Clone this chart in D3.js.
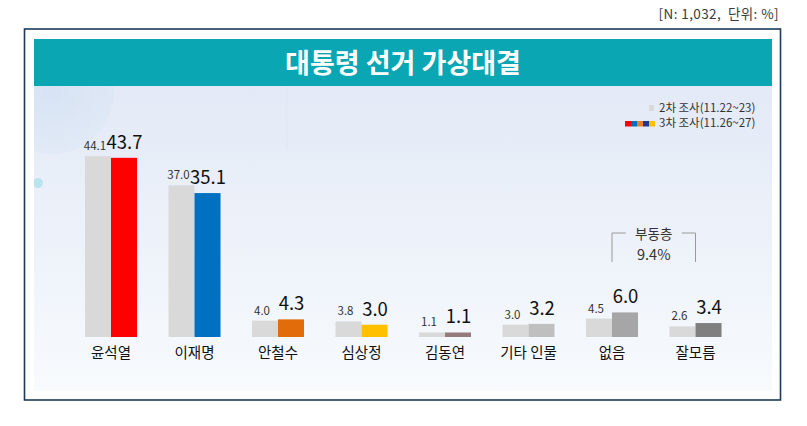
<!DOCTYPE html>
<html>
<head>
<meta charset="utf-8">
<script src="https://cdn.jsdelivr.net/npm/d3@7"></script>
<style>
  body { margin: 0; background: #fff; }
  svg { display: block; font-family: "Noto Sans CJK KR", "Noto Sans", sans-serif; }
</style>
</head>
<body>
<svg width="807" height="426"></svg>
<script>
// chart data
const categories = ["윤석열", "이재명", "안철수", "심상정", "김동연", "기타 인물", "없음", "잘모름"];
const wave2 = [44.1, 37.0, 4.0, 3.8, 1.1, 3.0, 4.5, 2.6];
const wave3 = [43.7, 35.1, 4.3, 3.0, 1.1, 3.2, 6.0, 3.4];
const wave3Colors = ["#ff0000", "#0070c0", "#e36c0a", "#ffc000", "#957b7b", "#bfbfbf", "#a6a6a6", "#7f7f7f"];
const legendLabels = ["2차 조사(11.22~23)", "3차 조사(11.26~27)"];
const legendStrip = ["#ff0000", "#0070c0", "#ed7d31", "#1f3a93", "#ffc000"];
const floatingLabel = "부동층";
const floatingValue = 9.4;
const floatingGroup = ["없음", "잘모름"];
const title = "대통령 선거 가상대결";
const note = "[N: 1,032,  단위: %]";

const svg = d3.select("svg");

let defs = svg.append("defs");
let grad = defs.append("linearGradient").attr("id", "bg").attr("x1", 0).attr("y1", 0).attr("x2", 0).attr("y2", 1);
grad.append("stop").attr("offset", "0%").attr("stop-color", "#e3e9f6");
grad.append("stop").attr("offset", "55%").attr("stop-color", "#eef3fa");
grad.append("stop").attr("offset", "100%").attr("stop-color", "#f7fbfe");
let glow = defs.append("radialGradient").attr("id", "glow");
glow.append("stop").attr("offset", "0%").attr("stop-color", "#c9dcf1").attr("stop-opacity", 0.8);
glow.append("stop").attr("offset", "100%").attr("stop-color", "#d3e2f3").attr("stop-opacity", 0.5);
defs.append("clipPath").attr("id", "panelClip")
  .append("rect").attr("x", 34).attr("y", 86).attr("width", 738).attr("height", 305);

// note at top right
svg.append("text")
  .attr("x", 779).attr("y", 19)
  .attr("text-anchor", "end")
  .attr("font-size", 13.5)
  .attr("letter-spacing", 0.4)
  .attr("fill", "#3a3a3a")
  .attr("xml:space", "preserve")
  .style("white-space", "pre")
  .text(note);

// outer frame
svg.append("rect")
  .attr("x", 24.5).attr("y", 29).attr("width", 756).attr("height", 371)
  .attr("fill", "#fff").attr("stroke", "#1d3a5a").attr("stroke-width", 1.6);

// header
svg.append("rect").attr("x", 34).attr("y", 39).attr("width", 738).attr("height", 47).attr("fill", "#0aa6b4");
svg.append("text")
  .attr("x", 403).attr("y", 63)
  .attr("dy", "0.36em")
  .attr("text-anchor", "middle")
  .attr("font-size", 27).attr("font-weight", "bold")
  .attr("fill", "#fff")
  .text(title);

// panel
svg.append("rect").attr("x", 34).attr("y", 86).attr("width", 738).attr("height", 305).attr("fill", "url(#bg)");
let deco = svg.append("g").attr("clip-path", "url(#panelClip)");
deco.append("circle").attr("cx", 52).attr("cy", 92).attr("r", 62).attr("fill", "url(#glow)").attr("opacity", 0.6);
deco.append("circle").attr("cx", 38).attr("cy", 183).attr("r", 5).attr("fill", "#b9e3ef");
deco.append("line").attr("x1", 287).attr("x2", 287).attr("y1", 86).attr("y2", 150).attr("stroke", "#dfe6f1");

// scales
const x = d3.scaleBand()
  .domain(categories)
  .range([69.25, 737.25])
  .paddingInner(0.377)
  .paddingOuter(0.1885);
const xs = d3.scaleBand().domain(["w2", "w3"]).range([0, x.bandwidth()]);
const y = d3.scaleLinear().domain([0, 50]).range([337, 132]);

const data = categories.map((c, i) => ({ cat: c, v2: wave2[i], v3: wave3[i], color: wave3Colors[i] }));

let g = svg.append("g");
let groups = g.selectAll("g.grp")
  .data(data)
  .enter()
  .append("g")
  .attr("class", "grp")
  .attr("transform", (d) => "translate(" + x(d.cat) + ",0)");

groups.append("rect")
  .attr("x", xs("w2")).attr("width", xs.bandwidth())
  .attr("y", (d) => y(d.v2)).attr("height", (d) => y(0) - y(d.v2))
  .attr("fill", "#d9d9d9");

groups.append("rect")
  .attr("x", xs("w3")).attr("width", xs.bandwidth())
  .attr("y", (d) => y(d.v3)).attr("height", (d) => y(0) - y(d.v3))
  .attr("fill", (d) => d.color);

groups.append("text")
  .attr("x", xs("w2") + xs.bandwidth() / 2 - 3)
  .attr("y", (d) => y(d.v2) - 6)
  .attr("text-anchor", "middle")
  .attr("font-size", 11.5)
  .attr("fill", "#333")
  .text((d) => d.v2.toFixed(1));

groups.append("text")
  .attr("x", xs("w3") + xs.bandwidth() / 2 + 0.5)
  .attr("y", (d) => y(d.v3) - 9)
  .attr("text-anchor", "middle")
  .attr("font-size", 18.5)
  .attr("fill", "#111")
  .text((d) => d.v3.toFixed(1));

// category labels
groups.append("text")
  .attr("x", x.bandwidth() / 2)
  .attr("y", 357.5)
  .attr("text-anchor", "middle")
  .attr("font-size", 14.5)
  .attr("fill", "#111")
  .text((d) => d.cat);

// floating voters bracket
let bx0 = x(floatingGroup[0]) + x.bandwidth() / 2;
let bx1 = x(floatingGroup[1]) + x.bandwidth() / 2;
let bmid = (bx0 + bx1) / 2;
let bracket = svg.append("g").attr("stroke", "#9a9a9a").attr("stroke-width", 1).attr("fill", "none");
bracket.append("path").attr("d", `M${bx0},262V233H${bmid - 28}`);
bracket.append("path").attr("d", `M${bx1},262V233H${bmid + 28}`);
svg.append("text")
  .attr("x", bmid).attr("y", 239)
  .attr("text-anchor", "middle")
  .attr("font-size", 13.5).attr("fill", "#333")
  .text(floatingLabel);
svg.append("text")
  .attr("x", bmid).attr("y", 260)
  .attr("text-anchor", "middle")
  .attr("font-size", 14.5).attr("fill", "#333")
  .text(floatingValue.toFixed(1) + "%");

// legend
let legend = svg.append("g").attr("font-size", 11.5).attr("fill", "#333");
legend.append("rect").attr("x", 649).attr("y", 105).attr("width", 5).attr("height", 6).attr("fill", "#d9d9d9");
legend.selectAll("rect.strip")
  .data(legendStrip)
  .enter()
  .append("rect")
  .attr("class", "strip")
  .attr("x", (d, i) => 625 + i * 6).attr("y", 121)
  .attr("width", 6).attr("height", 5.5)
  .attr("fill", (d) => d);
legend.selectAll("text")
  .data(legendLabels)
  .enter()
  .append("text")
  .attr("x", 659)
  .attr("y", (d, i) => 112 + i * 14.5)
  .text((d) => d);
</script>
</body>
</html>
